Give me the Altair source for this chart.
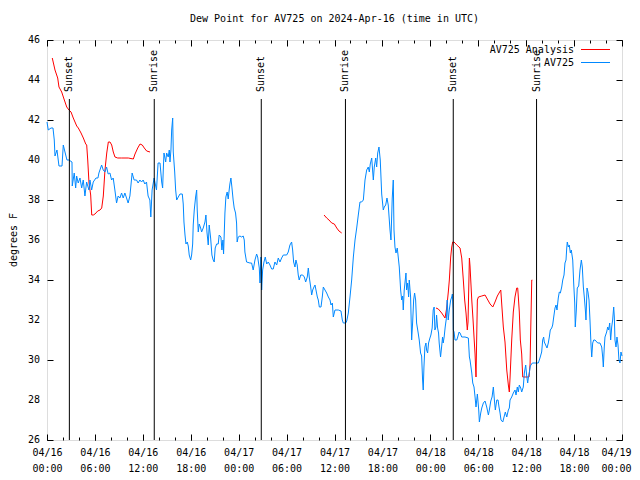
import altair as alt
import pandas as pd

T0 = 1713225600000  # 2024-04-16 00:00 UTC in ms
H = 3600000
SPAN_H = 72
FONT = "DejaVu Sans Mono"
TITLE = "Dew Point for AV725 on 2024-Apr-16 (time in UTC)"
Y_TITLE = "degrees F"

# ---- AV725 observations: hours after 04/16 00:00 UTC, dew point (F)
obs_hours = [
    0.00, 0.16, 0.50, 0.75, 0.91, 1.00, 1.25, 1.50, 1.88, 2.04, 2.25, 2.50, 2.75, 3.13, 3.16, 3.41,
    3.59, 3.71, 3.91, 4.13, 4.34, 4.54, 4.75, 4.96, 5.25, 5.38, 5.59, 5.79, 6.13, 6.38, 6.50, 6.84,
    7.04, 7.25, 7.46, 7.66, 7.88, 8.09, 8.29, 8.50, 8.71, 8.91, 9.13, 9.34, 9.54, 9.75, 9.96, 10.16,
    10.38, 10.66, 10.91, 11.21, 11.41, 11.63, 11.84, 12.04, 12.25, 12.46, 12.66, 12.88, 13.00, 13.16,
    13.41, 13.71, 13.91, 14.15, 14.36, 14.48, 14.56, 14.65, 14.86, 14.98, 15.18, 15.31, 15.40, 15.52,
    15.61, 15.74, 15.81, 15.99, 16.11, 16.24, 16.44, 16.65, 16.94, 17.06, 17.15, 17.28, 17.40, 17.56,
    17.69, 17.81, 17.99, 18.11, 18.24, 18.31, 18.44, 18.61, 18.74, 18.81, 18.94, 19.06, 19.24, 19.36,
    19.56, 19.78, 19.90, 20.03, 20.19, 20.31, 20.49, 20.65, 20.81, 20.94, 21.06, 21.24, 21.44, 21.56,
    21.78, 21.90, 22.03, 22.11, 22.28, 22.40, 22.56, 22.69, 22.81, 22.90, 23.03, 23.15, 23.31, 23.44,
    23.61, 23.74, 23.81, 23.94, 24.16, 24.37, 24.57, 24.70, 24.78, 24.99, 25.41, 25.62, 25.82, 26.04,
    26.25, 26.38, 26.58, 26.67, 26.79, 26.88, 27.00, 27.17, 27.33, 27.51, 27.71, 27.92, 28.13, 28.33,
    28.54, 28.76, 28.96, 29.17, 29.38, 29.59, 30.01, 30.21, 30.42, 30.63, 30.76, 30.88, 31.05, 31.17,
    31.33, 31.46, 31.58, 31.77, 32.02, 32.22, 32.39, 32.59, 32.72, 32.84, 33.02, 33.14, 33.27, 33.43,
    33.56, 33.68, 33.85, 33.97, 34.10, 34.31, 34.47, 34.60, 34.81, 35.02, 35.23, 35.44, 35.56, 35.73,
    35.85, 36.06, 36.48, 36.81, 36.98, 37.10, 37.40, 37.53, 37.73, 37.94, 38.15, 38.36, 38.57, 38.78,
    38.98, 39.19, 39.40, 39.61, 39.82, 40.03, 40.23, 40.36, 40.48, 40.66, 40.86, 40.98, 41.16, 41.28,
    41.41, 41.57, 41.73, 41.91, 42.11, 42.23, 42.41, 42.57, 42.73, 42.95, 43.07, 43.23, 43.36, 43.45,
    43.57, 43.70, 43.86, 43.98, 44.11, 44.28, 44.41, 44.53, 44.61, 44.73, 44.86, 44.95, 45.03, 45.16,
    45.28, 45.36, 45.53, 45.66, 45.78, 45.91, 46.03, 46.16, 46.28, 46.48, 46.61, 46.78, 46.91, 47.03,
    47.11, 47.20, 47.32, 47.45, 47.53, 47.66, 47.78, 47.95, 48.07, 48.23, 48.36, 48.48, 48.57, 48.70,
    48.78, 48.91, 49.03, 49.11, 49.28, 49.41, 49.53, 49.61, 49.73, 49.86, 50.03, 50.11, 50.24, 50.37,
    50.55, 50.68, 50.76, 50.85, 50.88, 50.97, 51.09, 51.31, 51.43, 51.60, 51.72, 51.93, 52.34, 52.76,
    52.89, 52.97, 53.19, 53.31, 53.47, 53.60, 53.72, 53.89, 54.06, 54.14, 54.31, 54.44, 54.64, 54.85,
    55.06, 55.27, 55.39, 55.57, 55.73, 55.89, 56.02, 56.14, 56.32, 56.48, 56.60, 56.73, 56.85, 57.07,
    57.23, 57.39, 57.57, 57.77, 57.89, 57.98, 58.19, 58.39, 58.60, 58.73, 58.89, 59.02, 59.14, 59.32,
    59.44, 59.64, 59.77, 59.94, 60.07, 60.19, 60.27, 60.39, 60.52, 60.60, 60.77, 61.10, 61.52, 61.73,
    61.94, 62.07, 62.19, 62.27, 62.44, 62.61, 62.77, 62.90, 63.02, 63.20, 63.32, 63.45, 63.61, 63.74,
    63.86, 64.02, 64.15, 64.28, 64.45, 64.58, 64.74, 64.86, 64.99, 65.08, 65.15, 65.28, 65.40, 65.53,
    65.65, 65.83, 65.95, 66.08, 66.15, 66.28, 66.40, 66.58, 66.74, 66.91, 67.03, 67.16, 67.28, 67.41,
    67.49, 67.62, 67.74, 67.87, 67.99, 68.12, 68.21, 68.33, 68.46, 68.62, 68.96, 69.24, 69.46, 69.58,
    69.66, 69.78, 69.87, 70.08, 70.21, 70.33, 70.46, 70.58, 70.71, 70.83, 70.96, 71.04, 71.12, 71.25,
    71.37, 71.50, 71.62, 71.75, 71.87, 72.00,
]
obs_values = [
    41.9, 41.5, 41.6, 41.6, 41.0, 40.2, 40.5, 39.7, 39.7, 40.75, 40.4, 40.0, 40.0, 39.9, 38.7, 39.35,
    38.6, 39.2, 38.85, 39.1, 38.6, 39.0, 38.2, 38.9, 38.5, 39.0, 38.5, 38.9, 39.1, 39.1, 39.35, 39.75,
    39.5, 39.4, 39.65, 39.3, 39.35, 39.0, 39.1, 38.5, 37.85, 38.2, 38.1, 38.35, 38.1, 38.35, 38.1, 37.85,
    38.2, 39.35, 39.0, 39.0, 38.85, 39.0, 38.9, 39.0, 38.8, 38.9, 38.2, 38.0, 37.15, 38.5,
    39.1, 38.5, 39.85, 39.85, 38.9, 38.6, 39.5, 40.35, 39.9, 40.35, 40.15, 40.5, 39.9, 40.5,
    41.5, 42.1, 40.4, 39.4, 38.5, 38.0, 38.15, 38.3, 38.3, 37.8, 36.9, 36.25, 35.8, 35.9,
    35.7, 35.25, 35.0, 35.25, 35.8, 36.75, 37.5, 38.15, 38.5, 37.5, 36.4, 36.8, 36.6, 36.4,
    36.6, 36.9, 37.25, 36.4, 35.75, 36.75, 36.1, 35.25, 35.0, 34.9, 35.6, 35.8, 35.8, 36.25,
    36.15, 35.5, 36.0, 35.3, 37.35, 38.15, 38.4, 38.05, 38.5, 38.8, 39.1, 38.65, 38.0, 37.6,
    37.35, 36.85, 35.9, 36.15, 36.2, 36.15, 36.2, 36.0, 35.4, 34.9, 34.85, 34.85, 34.5, 35.0,
    35.3, 35.15, 34.6, 33.85, 35.15, 33.5, 34.5, 34.9, 35.15, 34.8, 34.9, 34.75, 34.55, 34.55,
    34.9, 34.75, 35.1, 34.9, 35.1, 35.25, 35.25, 35.4, 35.75, 35.9, 35.5, 34.9, 34.65, 35.0,
    34.75, 34.25, 34.0, 34.25, 34.25, 34.15, 33.9, 34.15, 34.6, 34.15, 33.65, 33.25, 33.5, 33.65,
    33.75, 33.5, 33.15, 33.0, 32.65, 32.65, 33.15, 33.65, 33.5, 33.35, 33.15, 33.0, 32.75, 32.85,
    32.15, 32.5, 32.5, 32.45, 32.0, 31.85, 31.85, 31.95, 32.35, 33.15, 34.0, 35.15, 36.0, 36.6,
    37.25, 37.9, 37.9, 38.0, 39.0, 39.5, 39.65, 39.4, 39.8, 40.1, 39.0, 39.65, 40.1, 39.65,
    40.35, 40.65, 40.0, 38.3, 37.5, 37.65, 37.75, 38.1, 37.75, 36.5, 36.0, 38.1, 39.0, 36.5,
    35.65, 35.35, 35.6, 35.15, 34.65, 33.5, 33.0, 33.2, 32.5, 33.5, 34.0, 34.35, 33.5, 33.85,
    33.15, 34.0, 33.15, 31.0, 31.85, 33.0, 33.35, 33.0, 31.85, 31.35, 31.0, 30.35, 30.2, 29.0,
    28.5, 29.65, 30.65, 30.85, 30.5, 30.35, 30.85, 31.1, 31.25, 31.6, 32.5, 32.65, 31.5, 31.65,
    32.25, 31.6, 31.35, 30.85, 30.15, 30.65, 31.15, 30.85, 31.15, 31.65, 32.15, 33.0, 32.0, 32.5,
    33.0, 33.15, 33.3, 32.5, 31.5, 31.4, 31.0, 31.0, 31.15, 31.4, 31.35, 31.15, 31.15, 31.1,
    30.15, 30.0, 29.35, 28.85, 28.65, 28.15, 27.65, 28.3, 27.5, 26.9, 27.35, 27.6, 27.85, 27.95,
    27.65, 27.25, 27.5, 27.95, 28.15, 28.65, 28.0, 27.5, 28.0, 28.0, 27.65, 27.35, 27.0, 26.9,
    27.15, 27.4, 27.15, 27.5, 27.6, 28.0, 28.15, 28.35, 28.5, 28.25, 28.65, 28.4, 28.75, 28.6,
    28.4, 28.65, 29.35, 29.75, 29.2, 28.85, 29.1, 29.35, 29.7, 29.75, 29.85, 29.85, 29.85, 30.1,
    30.4, 31.0, 31.15, 30.9, 30.75, 30.6, 30.85, 31.15, 31.5, 31.6, 31.75, 32.15, 32.6, 32.75,
    32.5, 33.1, 33.4, 33.35, 33.65, 34.0, 34.25, 34.85, 35.0, 35.6, 35.9, 35.65, 35.75, 35.35,
    35.5, 35.0, 33.85, 32.85, 31.65, 32.5, 33.6, 33.7, 34.5, 35.0, 34.65, 33.65, 33.15, 32.5,
    32.0, 33.6, 33.4, 33.0, 32.0, 30.75, 30.15, 30.85, 31.0, 31.0, 30.85, 30.85, 30.65, 30.15,
    29.65, 30.65, 31.15, 31.4, 31.65, 31.5, 31.85, 31.0, 31.65, 32.0, 32.65, 32.15, 31.0, 30.65,
    31.15, 30.75, 30.0, 29.85, 30.4, 30.2,
]

# ---- AV725 Analysis (three separate runs)
ana1_hours = [0.66, 1.00, 1.34, 1.50, 1.84, 2.17, 2.47, 2.75, 3.01, 3.29, 3.72, 3.92, 4.26, 4.55,
              4.85, 4.97, 5.10, 5.26, 5.47, 5.60, 5.80, 6.01, 6.35, 6.64, 6.85, 7.05, 7.26, 7.48,
              7.68, 7.89, 8.10, 8.30, 8.51, 8.85, 9.35, 10.18, 10.81, 11.02, 11.36, 11.65, 11.93,
              12.18, 12.48, 12.90]
ana1_values = [45.1, 44.5, 44.1, 43.65, 43.4, 43.0, 42.65, 42.5, 42.4, 42.1, 41.7, 41.6, 41.35, 41.1,
               40.8, 40.75, 40.0, 38.85, 38.25, 37.25, 37.25, 37.3, 37.45, 37.5, 37.6, 38.2, 39.5, 40.35,
               40.9, 40.9, 40.75, 40.4, 40.15, 40.1, 40.1, 40.1, 40.05, 40.3, 40.6, 40.8, 40.75,
               40.6, 40.45, 40.4]
ana2_hours = [34.69, 35.02, 35.31, 35.65, 35.98, 36.28, 36.56, 36.90]
ana2_values = [37.25, 37.1, 37.0, 36.85, 36.8, 36.6, 36.45, 36.35]
ana3_hours = [48.71, 49.00, 49.42, 49.84, 50.05, 50.25, 50.38, 50.55, 50.68, 50.80, 50.97, 51.31,
              51.72, 51.93, 52.13, 52.30, 52.47, 52.63, 52.72, 52.89, 52.97, 53.19, 53.35, 53.47,
              53.60, 53.72, 53.89, 54.02, 54.44, 54.85, 55.06, 55.48, 55.82, 56.10, 56.39, 56.82,
              56.94, 57.14, 57.35, 57.57, 57.77, 57.89, 57.98, 58.19, 58.39, 58.60, 58.82, 58.94,
              59.02, 59.14, 59.27, 59.44, 59.57, 59.86, 60.36, 60.49, 60.57, 60.70, 60.77]
ana3_values = [32.6, 32.55, 32.35, 32.1, 32.6, 33.4, 34.0, 35.15, 35.65, 35.9, 35.9, 35.75,
               35.6, 35.1, 34.0, 33.0, 32.35, 31.5, 31.9, 35.1, 34.7, 33.0, 32.0, 31.15,
               30.3, 29.15, 33.0, 33.15, 33.2, 33.25, 33.1, 32.8, 32.65, 32.9, 33.2, 33.5,
               32.8, 31.65, 30.9, 29.5, 28.75, 28.4, 29.1, 31.0, 32.4, 33.15, 33.6, 33.6,
               33.15, 32.4, 31.0, 30.3, 29.15, 29.15, 29.15, 29.8, 31.5, 34.0, 34.0]

# ---- Sunrise / sunset markers
event_hours = [2.80, 13.43, 26.83, 37.37, 50.87, 61.30]
event_labels = ["Sunset", "Sunrise", "Sunset", "Sunrise", "Sunset", "Sunrise"]
event_top = 43.05
event_label_base = 43.4

# ---- Axes
y_tick_values = [26, 28, 30, 32, 34, 36, 38, 40, 42, 44, 46]
y_tick_labels = ["26", "28", "30", "32", "34", "36", "38", "40", "42", "44", "46"]
major_tick_hours = [0, 6, 12, 18, 24, 30, 36, 42, 48, 54, 60, 66, 72]
minor_tick_hours = [0, 2, 4, 6, 8, 10, 12, 14, 16, 18, 20, 22, 24, 26, 28, 30, 32, 34, 36,
                    38, 40, 42, 44, 46, 48, 50, 52, 54, 56, 58, 60, 62, 64, 66, 68, 70, 72]
legend_labels = ["AV725 Analysis", "AV725"]
legend_colors = ["#ff0000", "#0088ff"]


def ms(h):
    return T0 + round(h * H)


END = ms(SPAN_H)

obs = pd.DataFrame({"t": [ms(h) for h in obs_hours], "v": obs_values})
ana = pd.concat([
    pd.DataFrame({"t": [ms(h) for h in hs], "v": vs, "seg": i})
    for i, (hs, vs) in enumerate([(ana1_hours, ana1_values), (ana2_hours, ana2_values),
                                  (ana3_hours, ana3_values)])
], ignore_index=True)
events = pd.DataFrame({"t": [ms(h) for h in event_hours], "label": event_labels})
ylab = pd.DataFrame({"v": y_tick_values, "label": y_tick_labels})

xscale = alt.Scale(type="utc", domain=[T0, END])
yscale = alt.Scale(domain=[26, 46], nice=False, zero=False)

last_test = f"datum.value >= {END}"
x_axis = alt.Axis(
    values=[ms(h) for h in major_tick_hours],
    labelExpr="[utcFormat(datum.value, '%m/%d'), utcFormat(datum.value, '%H:%M')]",
    tickSize={"expr": "-6"}, labelPadding=13, labelLineHeight=16,
    labelAlign={"condition": {"test": last_test, "value": "right"}, "value": "center"},
    labelOffset={"condition": {"test": last_test, "value": 9}, "value": 0},
    domain=False, grid=False, title=None, labelFont=FONT, labelFontSize=10,
    labelColor="black", tickColor="black", labelFlush=False, labelOverlap=False,
)
y_axis = alt.Axis(
    values=y_tick_values, tickSize={"expr": "-6"}, labels=False,
    domain=False, grid=False, title=None, tickColor="black",
)

X = alt.X("t:T", scale=xscale, axis=x_axis)
Y = alt.Y("v:Q", scale=yscale, axis=y_axis)

obs_line = alt.Chart(obs).mark_line(color="#0088ff", strokeWidth=1).encode(x=X, y=Y)
ana_line = alt.Chart(ana).mark_line(color="#ff0000", strokeWidth=1).encode(
    x=X, y=Y, detail="seg:N")
ev_rules = alt.Chart(events).mark_rule(color="black", strokeWidth=1).encode(
    x=X, y=alt.datum(26), y2=alt.datum(event_top))
ev_text = alt.Chart(events).mark_text(
    angle=270, align="left", baseline="middle", font=FONT, fontSize=10, color="black"
).encode(x=X, y=alt.datum(event_label_base), text="label:N")

# y tick labels and y axis title
ylab_text = alt.Chart(ylab).mark_text(
    align="right", baseline="middle", font=FONT, fontSize=10, color="black"
).encode(x=alt.value(-7), y=Y, text="label:N")
ytitle_text = alt.Chart(pd.DataFrame({"title": [Y_TITLE]})).mark_text(
    angle=270, align="center", baseline="middle", font=FONT, fontSize=10, color="black"
).encode(x=alt.value(-33), y=alt.value(200), text="title:N")

title_text = alt.Chart(pd.DataFrame({"title": [TITLE]})).mark_text(
    align="center", baseline="middle", font=FONT, fontSize=10, color="black"
).encode(x=alt.value(287.5), y=alt.value(-21), text="title:N")

legend_layers = []
for i, (lab, col) in enumerate(zip(legend_labels, legend_colors)):
    ldf = pd.DataFrame({"label": [lab]})
    legend_layers.append(
        alt.Chart(ldf).mark_text(align="right", baseline="middle", font=FONT, fontSize=10,
                                 color="black").encode(
            x=alt.value(527), y=alt.value(10 + 13 * i), text="label:N"))
    legend_layers.append(
        alt.Chart(ldf).mark_rule(color=col, strokeWidth=1).encode(
            x=alt.value(534), x2=alt.value(563), y=alt.value(9.5 + 13 * i)))

main = alt.layer(ana_line, obs_line, ev_rules, ev_text, ylab_text, ytitle_text, title_text,
                 *legend_layers)


def ghost(xa, ya):
    return alt.Chart(obs).mark_line(opacity=0).encode(
        x=alt.X("t:T", scale=xscale, axis=xa),
        y=alt.Y("v:Q", scale=yscale, axis=ya))


common = dict(domain=False, grid=False, title=None, labels=False, tickColor="black")
minor_bottom = ghost(alt.Axis(orient="bottom", values=[ms(h) for h in minor_tick_hours],
                              tickSize={"expr": "-3"}, **common), None)
top_right = ghost(alt.Axis(orient="top", values=[ms(h) for h in major_tick_hours],
                           tickSize={"expr": "-6"}, **common),
                  alt.Axis(orient="right", values=y_tick_values, tickSize={"expr": "-6"}, **common))
minor_top = ghost(alt.Axis(orient="top", values=[ms(h) for h in minor_tick_hours],
                           tickSize={"expr": "-3"}, **common), None)

chart = alt.layer(main, minor_bottom, top_right, minor_top).resolve_scale(
    x="independent", y="independent"
).properties(
    width=575, height=400,
    autosize=alt.AutoSizeParams(type="none"),
    padding={"left": 39, "top": 32, "right": 10, "bottom": 32},
).configure_view(stroke="black", strokeWidth=1).configure(background="white")

chart.save("out.html", embed_options={"renderer": "svg", "actions": False})
